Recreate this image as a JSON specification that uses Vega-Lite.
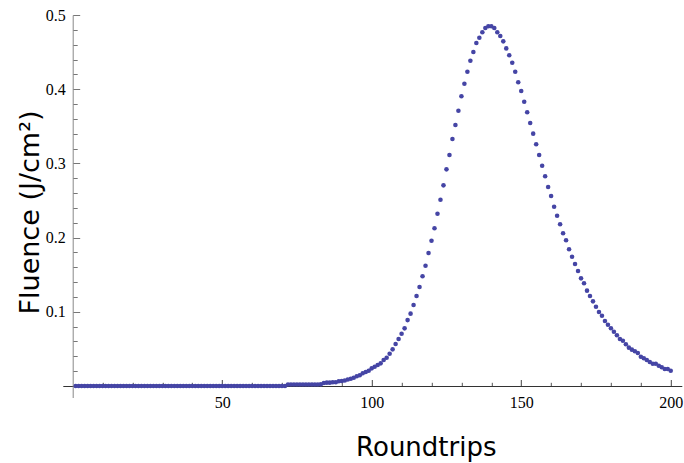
{
 "$schema": "https://vega.github.io/schema/vega-lite/v6.json",
 "width": 619,
 "height": 382.5,
 "autosize": "none",
 "padding": {"left": 62.8, "top": 15, "right": 2.2, "bottom": 65.5},
 "background": "white",
 "config": {"view": {"stroke": null}},
 "data": {"values": [
  {"r":1,"f":0},{"r":2,"f":0},{"r":3,"f":0},{"r":4,"f":0},{"r":5,"f":0},{"r":6,"f":0},{"r":7,"f":0},{"r":8,"f":0},{"r":9,"f":0},{"r":10,"f":0},
  {"r":11,"f":0},{"r":12,"f":0},{"r":13,"f":0},{"r":14,"f":0},{"r":15,"f":0},{"r":16,"f":0},{"r":17,"f":0},{"r":18,"f":0},{"r":19,"f":0},{"r":20,"f":0},
  {"r":21,"f":0},{"r":22,"f":0},{"r":23,"f":0},{"r":24,"f":0},{"r":25,"f":0},{"r":26,"f":0},{"r":27,"f":0},{"r":28,"f":0},{"r":29,"f":0},{"r":30,"f":0},
  {"r":31,"f":0},{"r":32,"f":0},{"r":33,"f":0},{"r":34,"f":0},{"r":35,"f":0},{"r":36,"f":0},{"r":37,"f":0},{"r":38,"f":0},{"r":39,"f":0},{"r":40,"f":0},
  {"r":41,"f":0},{"r":42,"f":0},{"r":43,"f":0},{"r":44,"f":0},{"r":45,"f":0},{"r":46,"f":0},{"r":47,"f":0},{"r":48,"f":0},{"r":49,"f":0},{"r":50,"f":0},
  {"r":51,"f":0},{"r":52,"f":0},{"r":53,"f":0},{"r":54,"f":0},{"r":55,"f":0},{"r":56,"f":0},{"r":57,"f":0},{"r":58,"f":0},{"r":59,"f":0},{"r":60,"f":0},
  {"r":61,"f":0},{"r":62,"f":0},{"r":63,"f":0},{"r":64,"f":0},{"r":65,"f":0},{"r":66,"f":0},{"r":67,"f":0},{"r":68,"f":0},{"r":69,"f":0},{"r":70,"f":0},
  {"r":71,"f":0},{"r":72,"f":0.002},{"r":73,"f":0.002},{"r":74,"f":0.002},{"r":75,"f":0.002},{"r":76,"f":0.002},{"r":77,"f":0.002},{"r":78,"f":0.002},{"r":79,"f":0.002},{"r":80,"f":0.002},
  {"r":81,"f":0.002},{"r":82,"f":0.002},{"r":83,"f":0.0022},{"r":84,"f":0.004},{"r":85,"f":0.0045},{"r":86,"f":0.0045},{"r":87,"f":0.005},{"r":88,"f":0.005},{"r":89,"f":0.0063},{"r":90,"f":0.0068},
  {"r":91,"f":0.0075},{"r":92,"f":0.0088},{"r":93,"f":0.0098},{"r":94,"f":0.0112},{"r":95,"f":0.0131},{"r":96,"f":0.0144},{"r":97,"f":0.0171},{"r":98,"f":0.0189},{"r":99,"f":0.0206},{"r":100,"f":0.0238},
  {"r":101,"f":0.026},{"r":102,"f":0.0283},{"r":103,"f":0.0305},{"r":104,"f":0.035},{"r":105,"f":0.0381},{"r":106,"f":0.0435},{"r":107,"f":0.0494},{"r":108,"f":0.0566},{"r":109,"f":0.0633},{"r":110,"f":0.0705},
  {"r":111,"f":0.0777},{"r":112,"f":0.0888},{"r":113,"f":0.0975},{"r":114,"f":0.1092},{"r":115,"f":0.1213},{"r":116,"f":0.1334},{"r":117,"f":0.1478},{"r":118,"f":0.1621},{"r":119,"f":0.1792},{"r":120,"f":0.1958},
  {"r":121,"f":0.2125},{"r":122,"f":0.2322},{"r":123,"f":0.2511},{"r":124,"f":0.2704},{"r":125,"f":0.292},{"r":126,"f":0.3113},{"r":127,"f":0.3329},{"r":128,"f":0.3517},{"r":129,"f":0.371},{"r":130,"f":0.3904},
  {"r":131,"f":0.4074},{"r":132,"f":0.4235},{"r":133,"f":0.4384},{"r":134,"f":0.4501},{"r":135,"f":0.4622},{"r":136,"f":0.4694},{"r":137,"f":0.4767},{"r":138,"f":0.4825},{"r":139,"f":0.4848},{"r":140,"f":0.4848},
  {"r":141,"f":0.4825},{"r":142,"f":0.4767},{"r":143,"f":0.4717},{"r":144,"f":0.4645},{"r":145,"f":0.455},{"r":146,"f":0.4457},{"r":147,"f":0.4357},{"r":148,"f":0.4235},{"r":149,"f":0.4093},{"r":150,"f":0.3975},
  {"r":151,"f":0.3831},{"r":152,"f":0.3689},{"r":153,"f":0.3544},{"r":154,"f":0.3401},{"r":155,"f":0.3257},{"r":156,"f":0.3113},{"r":157,"f":0.2969},{"r":158,"f":0.2826},{"r":159,"f":0.2682},{"r":160,"f":0.2561},
  {"r":161,"f":0.2416},{"r":162,"f":0.2295},{"r":163,"f":0.2179},{"r":164,"f":0.2058},{"r":165,"f":0.1964},{"r":166,"f":0.1842},{"r":167,"f":0.1742},{"r":168,"f":0.1644},{"r":169,"f":0.155},{"r":170,"f":0.1451},
  {"r":171,"f":0.1384},{"r":172,"f":0.1285},{"r":173,"f":0.1213},{"r":174,"f":0.1141},{"r":175,"f":0.1069},{"r":176,"f":0.0997},{"r":177,"f":0.0947},{"r":178,"f":0.0876},{"r":179,"f":0.0826},{"r":180,"f":0.0778},
  {"r":181,"f":0.0732},{"r":182,"f":0.0683},{"r":183,"f":0.0633},{"r":184,"f":0.061},{"r":185,"f":0.0562},{"r":186,"f":0.0517},{"r":187,"f":0.049},{"r":188,"f":0.0468},{"r":189,"f":0.0445},{"r":190,"f":0.0395},
  {"r":191,"f":0.0373},{"r":192,"f":0.035},{"r":193,"f":0.0323},{"r":194,"f":0.03},{"r":195,"f":0.03},{"r":196,"f":0.0273},{"r":197,"f":0.0252},{"r":198,"f":0.0229},{"r":199,"f":0.0229},{"r":200,"f":0.0206}
 ]},
 "layer": [
  {
   "mark": {"type": "point", "opacity": 0},
   "encoding": {
    "x": {"field": "r", "type": "quantitative",
      "scale": {"domain": [-3.3, 203.7], "nice": false, "zero": false},
      "axis": {"orient": "bottom", "offset": -11.5, "values": [10,20,30,40,60,70,80,90,110,120,130,140,160,170,180,190],
        "tickSize": -3.7, "tickColor": "#555555", "tickWidth": 1, "labels": false, "domain": false, "grid": false, "title": null}},
    "y": {"field": "f", "type": "quantitative",
      "scale": {"domain": [-0.0155, 0.5], "nice": false, "zero": false},
      "axis": {"orient": "left", "offset": -9.9, "values": [0.02,0.04,0.06,0.08,0.12,0.14,0.16,0.18,0.22,0.24,0.26,0.28,0.32,0.34,0.36,0.38,0.42,0.44,0.46,0.48],
        "tickSize": -4.5, "tickColor": "#777777", "tickWidth": 1, "labels": false, "domain": false, "grid": false, "title": null}}
   }
  },
  {
   "mark": {"type": "circle", "size": 21, "color": "#4545a5", "opacity": 1},
   "encoding": {
    "x": {"field": "r", "type": "quantitative",
      "axis": {"orient": "bottom", "offset": -11.5, "values": [50,100,150,200], "tickSize": -6.5, "tickColor": "#444444", "tickWidth": 1,
        "domainColor": "#333333", "domainWidth": 1, "grid": false, "labelFlush": false, "labelOverlap": false,
        "labelFont": "Liberation Serif", "labelFontSize": 16, "labelColor": "black", "labelPadding": 15,
        "title": "Roundtrips", "titleFont": "DejaVu Sans", "titleFontSize": 26, "titleFontWeight": "normal", "titleColor": "black",
        "titleX": 363, "titleY": 69, "titleAlign": "center", "titleBaseline": "alphabetic"}},
    "y": {"field": "f", "type": "quantitative",
      "axis": {"orient": "left", "offset": -9.9, "values": [0.1,0.2,0.3,0.4,0.5], "format": ".1f", "tickSize": -7, "tickColor": "#777777", "tickWidth": 1,
        "domainColor": "#888888", "domainWidth": 1, "grid": false, "labelFlush": false, "labelOverlap": false,
        "labelFont": "Liberation Serif", "labelFontSize": 16, "labelColor": "black", "labelPadding": 14.5,
        "title": "Fluence (J/cm²)", "titleFont": "DejaVu Sans", "titleFontSize": 27, "titleFontWeight": "normal", "titleColor": "black",
        "titleX": -33.7, "titleY": 197, "titleAngle": -90, "titleAlign": "center", "titleBaseline": "alphabetic"}}
   }
  }
 ],
 "resolve": {"axis": {"x": "independent", "y": "independent"}}
}
